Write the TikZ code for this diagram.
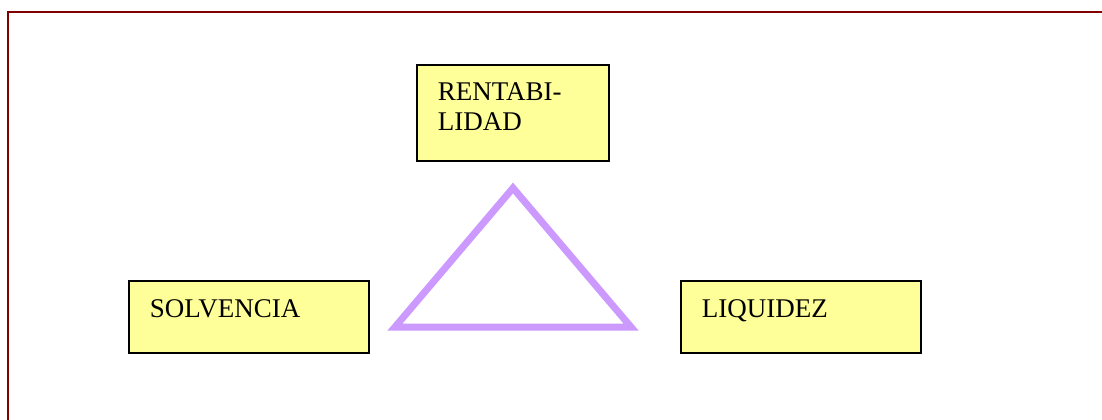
\documentclass[tikz,border=0pt]{standalone}
\usepackage{fontspec}
\setmainfont{Liberation Serif}
\usetikzlibrary{positioning}
\definecolor{boxyellow}{HTML}{FFFF99}
\definecolor{lilac}{HTML}{CC99FF}
\definecolor{framered}{HTML}{800000}
\tikzset{
  box/.style={draw=black, line width=0.6pt, fill=boxyellow, inner sep=0pt},
  boxtext/.style={anchor=base west, inner sep=0pt, text width=90pt, align=left,
    font=\fontsize{13.5}{15}\selectfont}
}

\begin{document}
\begin{tikzpicture}[x=0.5pt, y=-0.5pt]
\useasboundingbox (0,0) rectangle (1102,419);
\draw[framered, line width=1pt] (8,430) -- (8,12) -- (1110,12);
\node[box, minimum width=96pt, minimum height=48pt] (rent) at (513,113) {};
\node[box, minimum width=120pt, minimum height=36pt] (solv) at (249,317) {};
\node[box, minimum width=120pt, minimum height=36pt] (liq) at (801,317) {};
\node[boxtext] (rent text) at ([xshift=10.5pt, yshift=-18pt]rent.north west) {RENTABI-\\LIDAD};
\node[boxtext] (solv text) at ([xshift=10.5pt, yshift=-18.5pt]solv.north west) {SOLVENCIA};
\node[boxtext] (liq text) at ([xshift=10.5pt, yshift=-18.5pt]liq.north west) {LIQUIDEZ};
\coordinate (top) at (513,188);
\coordinate (left) at (395,327);
\coordinate (right) at (631,327);
\draw[lilac, line width=3.5pt] (top) -- (left) -- (right) -- cycle;
\end{tikzpicture}
\end{document}
